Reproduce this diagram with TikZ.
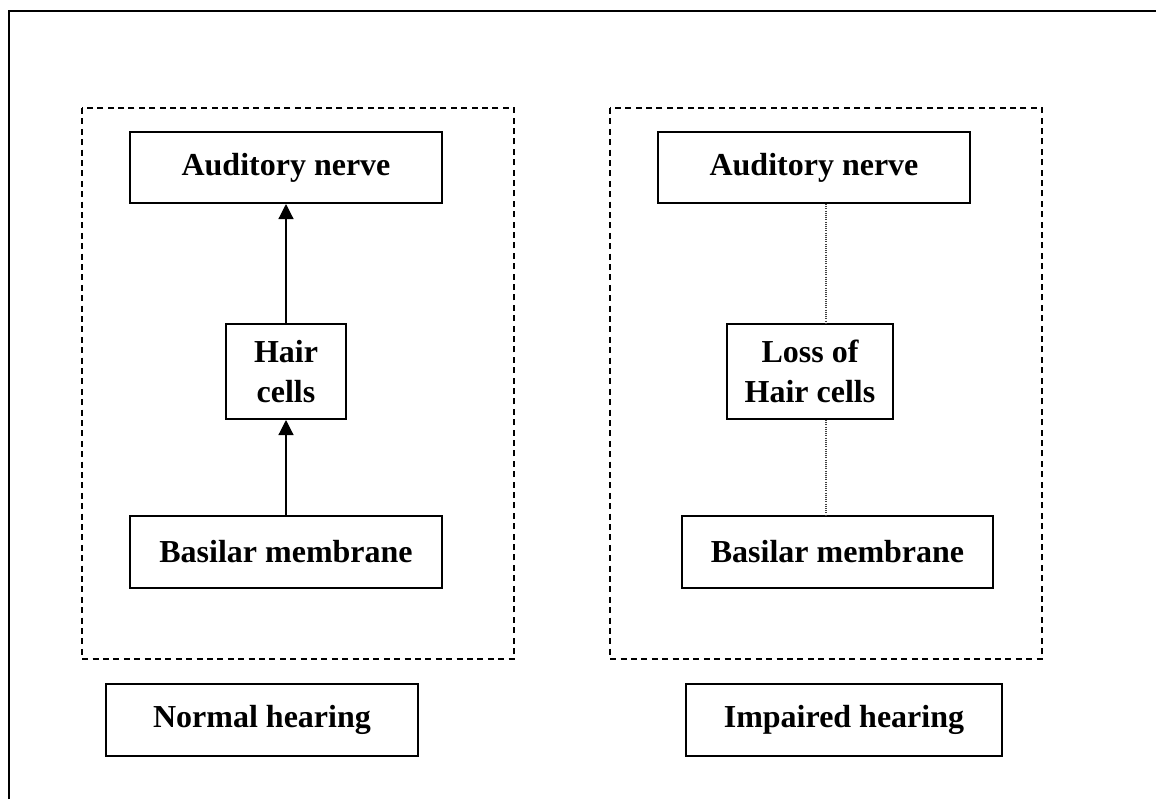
\documentclass[tikz,border=0pt]{standalone}
\usepackage{fontspec}
\setmainfont{Liberation Serif}
\usetikzlibrary{arrows.meta}
\begin{document}
\begin{tikzpicture}[x=0.5pt,y=-0.5pt,
  box/.style={draw,line width=1pt,inner sep=0pt,align=center,
    font=\bfseries\fontsize{16}{20}\selectfont},
  group/.style={draw,line width=0.8pt,dash pattern=on 3pt off 2.2pt},
  link/.style={line width=0.6pt,-{Triangle[width=7.5pt,length=7.5pt]}},
  weak/.style={line width=0.6pt,black!75,dash pattern=on 0.5pt off 0.6pt},
  frame/.style={line width=1.1pt}]
\useasboundingbox (0,0) rectangle (1156,799);
% outer frame
\coordinate (fbl) at (9,799);
\coordinate (ftl) at (9,11);
\coordinate (ftr) at (1156,11);
\draw[frame] (fbl) -- (ftl) -- (ftr);
% dashed groups
\draw[group] (82,108) rectangle (514,659);
\draw[group] (610,108) rectangle (1042,659);
% normal hearing
\node[box,minimum width=156pt,minimum height=35.5pt] (audL) at (286,167.5) {Auditory nerve};
\node[box,minimum width=60pt,minimum height=47.5pt] (hairL) at (286,371.5) {Hair\\cells};
\node[box,minimum width=156pt,minimum height=36pt] (basL) at (286,552) {Basilar membrane};
\node[box,minimum width=156pt,minimum height=36pt] (normal) at (262,720) {Normal hearing};
\draw[link] (basL.north) -- (hairL.south);
\draw[link] (hairL.north) -- (audL.south);
% impaired hearing
\node[box,minimum width=156pt,minimum height=35.5pt] (audR) at (814,167.5) {Auditory nerve};
\node[box,minimum width=83pt,minimum height=47.5pt] (loss) at (810,371.5) {Loss of\\Hair cells};
\node[box,minimum width=155.5pt,minimum height=36pt] (basR) at (837.5,552) {Basilar membrane};
\node[box,minimum width=158pt,minimum height=36pt] (impaired) at (844,720) {Impaired hearing};
\coordinate (dl) at (826,0);
\draw[weak] (audR.south -| dl) -- (loss.north -| dl);
\draw[weak] (loss.south -| dl) -- (basR.north -| dl);
\end{tikzpicture}
\end{document}
